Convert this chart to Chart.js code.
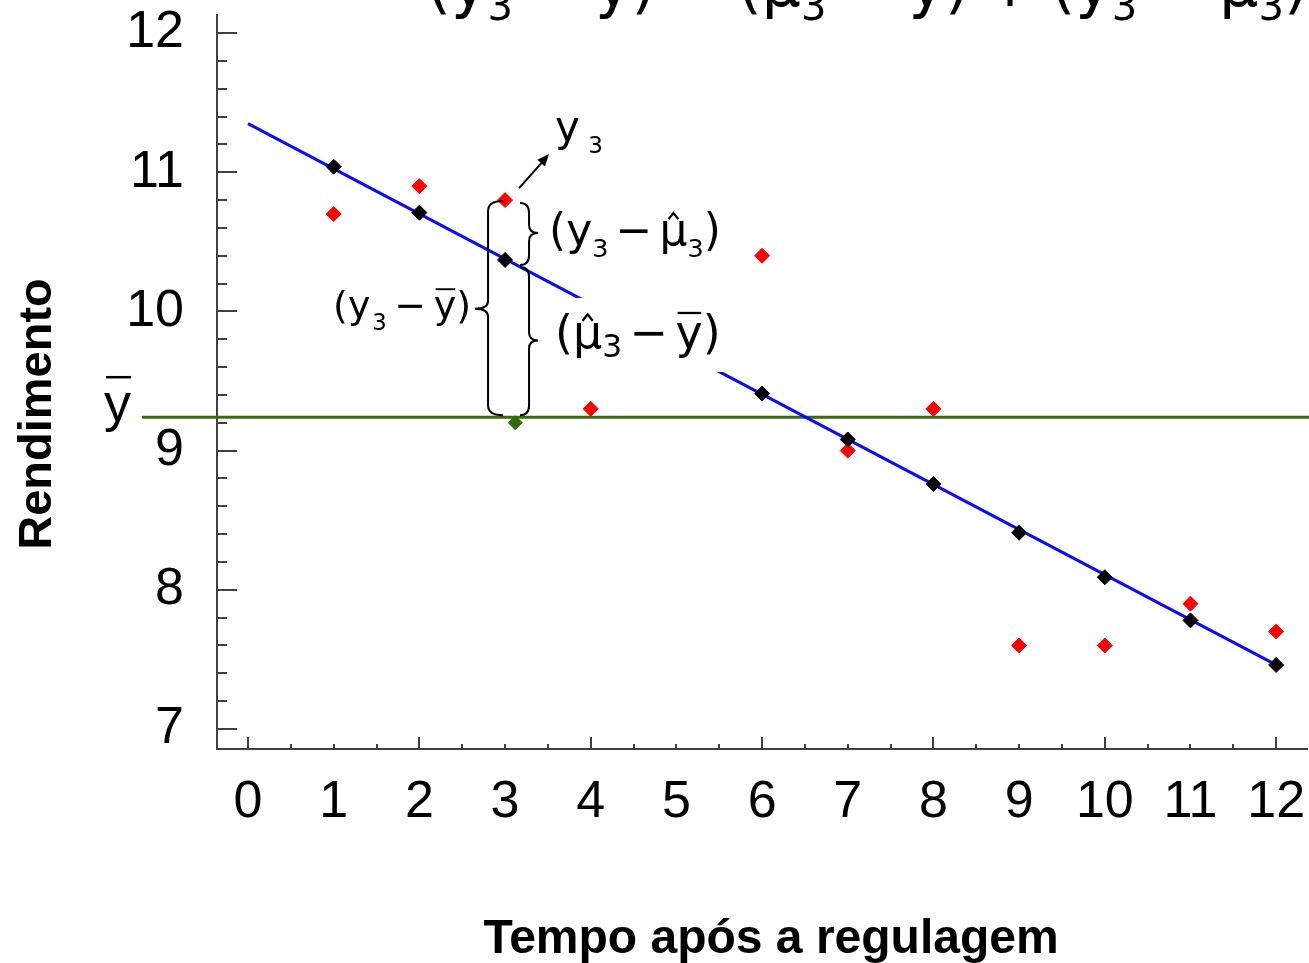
<!DOCTYPE html>
<html><head><meta charset="utf-8">
<script src="https://cdn.jsdelivr.net/npm/chart.js@4.4.1/dist/chart.umd.min.js"></script>
<style>html,body{margin:0;padding:0;background:#fff}#wrap{width:1309px;height:963px;position:relative}</style>
</head><body><div id="wrap"><canvas id="c"></canvas></div>
<script>
// ---- data ----
const tempo = [1, 2, 3, 4, 6, 7, 8, 9, 10, 11, 12];
const rendimento = [10.7, 10.9, 10.8, 9.3, 10.4, 9.0, 9.3, 7.6, 7.6, 7.9, 7.7];
const tempoAjustado = [1, 2, 3, 6, 7, 8, 9, 10, 11, 12];
const ajustado = [11.04, 10.71, 10.37, 9.41, 9.08, 8.76, 8.41, 8.09, 7.78, 7.46];
const retaX = [0, 12];
const retaY = [11.35, 7.46];
const mediaY = 9.24;
const mediaPontoX = [3.12];
const mediaPontoY = [9.2];
const xTickLabels = [0, 1, 2, 3, 4, 5, 6, 7, 8, 9, 10, 11, 12];
const yTickLabels = [7, 8, 9, 10, 11, 12];
const destaqueX = 3;          // observation 3
const destaqueObs = 10.8;     // y3
const destaqueAjust = 10.37;  // mu-hat 3
const xTitle = 'Tempo após a regulagem';
const yTitle = 'Rendimento';

const pts = (xs, ys) => xs.map((x, i) => ({x, y: ys[i]}));
const SANS = '"Liberation Sans", Arial, sans-serif';
const DV = '"DejaVu Sans", sans-serif';

// rich text: parts of {t, k:'n'|'s'|'op', bar, hat}
function rich(ctx, x, y, parts, F, opt) {
  opt = opt || {};
  const subR = opt.subR || 0.6, subDy = opt.subDy || 0.25, opGap = opt.opGap == null ? 0.12 : opt.opGap;
  let cx = x;
  ctx.textBaseline = 'alphabetic';
  ctx.textAlign = 'left';
  for (const p of parts) {
    const isSub = p.k === 's';
    const size = isSub ? F * subR : F;
    const dy = isSub ? F * subDy : 0;
    ctx.font = size + 'px ' + DV;
    if (p.k === 'op') cx += F * opGap;
    if (p.pre) cx += F * p.pre;
    ctx.fillText(p.t, cx, y + dy);
    const w = ctx.measureText(p.t).width;
    ctx.lineWidth = Math.max(1.5, F * 0.05);
    if (p.bar) {
      ctx.beginPath();
      ctx.moveTo(cx + w * 0.08, y - F * 0.76);
      ctx.lineTo(cx + w * 0.95, y - F * 0.76);
      ctx.stroke();
    }
    if (p.hat) {
      const c = cx + w * 0.5;
      ctx.beginPath();
      ctx.moveTo(c - F * 0.11, y - F * 0.59);
      ctx.lineTo(c, y - F * 0.73);
      ctx.lineTo(c + F * 0.11, y - F * 0.59);
      ctx.stroke();
    }
    cx += w;
    if (p.k === 'op') cx += F * opGap;
  }
  return cx;
}

function brace(ctx, x0, y1, y2, ym, dir, c, t) {
  // dir = 1: tip to the right ("}"), -1: tip to the left ("{")
  const r = Math.min(10, (y2 - y1) / 4);
  ctx.beginPath();
  ctx.moveTo(x0 - dir * c, y1);
  ctx.quadraticCurveTo(x0, y1, x0, y1 + r);
  ctx.lineTo(x0, ym - r * 0.8);
  ctx.quadraticCurveTo(x0, ym, x0 + dir * t, ym);
  ctx.quadraticCurveTo(x0, ym, x0, ym + r * 0.8);
  ctx.lineTo(x0, y2 - r);
  ctx.quadraticCurveTo(x0, y2, x0 - dir * c, y2);
  ctx.stroke();
}

const annot = {
  id: 'annot',
  beforeDatasetsDraw(chart) {
    const {ctx, scales: {x, y}} = chart;
    ctx.save();
    const ym = y.getPixelForValue(mediaY);
    ctx.strokeStyle = '#3b6b10';
    ctx.lineWidth = 3;
    ctx.beginPath();
    ctx.moveTo(x.left - 75, ym);
    ctx.lineTo(chart.width, ym);
    ctx.stroke();
    ctx.restore();
  },
  afterDatasetsDraw(chart) {
    const {ctx, scales: {x, y}, chartArea: ca} = chart;
    ctx.save();
    // axis tick marks
    ctx.strokeStyle = '#404040';
    ctx.lineWidth = 2;
    for (let i = 0; i <= 25; i++) {
      const v = 7 + i * 0.2;
      if (v > y.max) break;
      const py = Math.round(y.getPixelForValue(v));
      const major = Math.abs(v - Math.round(v)) < 1e-6;
      ctx.beginPath();
      ctx.moveTo(ca.left, py);
      ctx.lineTo(ca.left + (major ? 20 : 10), py);
      ctx.stroke();
    }
    for (let i = 0; i <= 24; i++) {
      const v = i * 0.5;
      const px = Math.round(x.getPixelForValue(v));
      const major = i % 4 === 0;
      ctx.beginPath();
      ctx.moveTo(px, ca.bottom);
      ctx.lineTo(px, ca.bottom - (major ? 12 : 5));
      ctx.stroke();
    }

    ctx.fillStyle = '#000';
    ctx.strokeStyle = '#000';
    const x3 = x.getPixelForValue(destaqueX);
    const yObs = y.getPixelForValue(destaqueObs);
    const yFit = y.getPixelForValue(destaqueAjust);
    const yBar = y.getPixelForValue(mediaY);

    // white box behind (mu-hat3 - ybar)
    ctx.fillStyle = '#fff';
    ctx.fillRect(x3 + 45, yFit + 38, 175, 74);
    ctx.fillStyle = '#000';

    // braces
    ctx.lineWidth = 2;
    brace(ctx, x3 + 24, yObs + 3, yFit + 5, (yObs + yFit) / 2 + 3, 1, 9, 9);
    brace(ctx, x3 + 24, yFit + 7, yBar - 2, (yFit + yBar) / 2 + 2, 1, 9, 9);
    brace(ctx, x3 - 17, yObs + 1, yBar - 2, (yObs + yBar) / 2, -1, 15, 13);

    // arrow to y3 label
    const ax0 = x3 + 14, ay0 = yObs - 12, ax1 = x3 + 44, ay1 = yObs - 46;
    ctx.lineWidth = 2;
    ctx.beginPath(); ctx.moveTo(ax0, ay0); ctx.lineTo(ax1 - 5, ay1 + 6); ctx.stroke();
    const ang = Math.atan2(ay1 - ay0, ax1 - ax0);
    ctx.beginPath();
    ctx.moveTo(ax1, ay1);
    ctx.lineTo(ax1 - 13 * Math.cos(ang - 0.4), ay1 - 13 * Math.sin(ang - 0.4));
    ctx.lineTo(ax1 - 13 * Math.cos(ang + 0.4), ay1 - 13 * Math.sin(ang + 0.4));
    ctx.closePath(); ctx.fill();

    // labels
    rich(ctx, x3 + 50, yObs - 59, [{t: 'y'}, {t: '3', k: 's', pre: 0.2}], 42, {subR: 0.55, subDy: 0.28});
    rich(ctx, x3 + 44, yObs + 45, [{t: '('}, {t: 'y'}, {t: '3', k: 's'}, {t: '−', k: 'op'}, {t: 'μ', hat: true}, {t: '3', k: 's'}, {t: ')'}], 44, {subR: 0.58, subDy: 0.26, opGap: 0.16});
    rich(ctx, x3 - 172, yObs + 118, [{t: '('}, {t: 'y'}, {t: '3', k: 's', pre: 0.05}, {t: '−', k: 'op'}, {t: 'y', bar: true}, {t: ')'}], 38, {subR: 0.6, subDy: 0.3, opGap: 0.2});
    rich(ctx, x3 + 50, yFit + 88, [{t: '('}, {t: 'μ', hat: true}, {t: '3', k: 's'}, {t: '−', k: 'op'}, {t: 'y', bar: true}, {t: ')'}], 46, {subR: 0.68, subDy: 0.2, opGap: 0.16});

    // top formula (cut off at the top)
    rich(ctx, 427, 6, [
      {t: '('}, {t: 'y'}, {t: '3', k: 's'}, {t: '−', k: 'op'}, {t: 'y', bar: true}, {t: ')'},
      {t: '=', k: 'op'},
      {t: '('}, {t: 'μ', hat: true}, {t: '3', k: 's'}, {t: '−', k: 'op'}, {t: 'y', bar: true}, {t: ')'},
      {t: '+', k: 'op'},
      {t: '('}, {t: 'y'}, {t: '3', k: 's'}, {t: '−', k: 'op'}, {t: 'μ', hat: true}, {t: '3', k: 's'}, {t: ')'}
    ], 61.5, {subR: 0.65, subDy: 0.23, opGap: 0.25});

    // y-bar label at left
    ctx.font = '54px ' + SANS;
    ctx.textAlign = 'left';
    ctx.textBaseline = 'alphabetic';
    ctx.fillText('y', 104, yBar + 4);
    ctx.lineWidth = 2.5;
    ctx.beginPath(); ctx.moveTo(106, yBar - 40); ctx.lineTo(131, yBar - 40); ctx.stroke();

    // axis titles
    ctx.font = 'bold 48px ' + SANS;
    ctx.textAlign = 'center';
    ctx.textBaseline = 'alphabetic';
    ctx.fillText(xTitle, 771, 953);
    ctx.save();
    ctx.translate(51, 414);
    ctx.rotate(-Math.PI / 2);
    ctx.font = 'bold 47px ' + SANS;
    ctx.fillText(yTitle, 0, 0);
    ctx.restore();
    ctx.restore();
  }
};

new Chart(document.getElementById('c'), {
  data: {
    datasets: [
      {type: 'line', data: pts(retaX, retaY), borderColor: '#0a0aff', borderWidth: 3, pointRadius: 0, fill: false, order: 5},
      {type: 'scatter', data: pts(tempo, rendimento), pointStyle: 'rectRot', radius: 7.5, backgroundColor: '#ff0000', borderColor: '#ff0000', borderWidth: 1, order: 2},
      {type: 'scatter', data: pts(tempoAjustado, ajustado), pointStyle: 'rectRot', radius: 7.5, backgroundColor: '#000', borderColor: '#000', borderWidth: 1, order: 1},
      {type: 'scatter', data: pts(mediaPontoX, mediaPontoY), pointStyle: 'rectRot', radius: 7, backgroundColor: '#2f6b0c', borderColor: '#2f6b0c', borderWidth: 1, order: 1}
    ]
  },
  options: {
    responsive: true,
    maintainAspectRatio: false,
    animation: false,
    events: [],
    layout: {autoPadding: false, padding: {left: 0, top: 15, right: 2, bottom: 0}},
    plugins: {legend: {display: false}, tooltip: {enabled: false}},
    scales: {
      x: {
        type: 'linear', min: -0.362, max: 12.36,
        afterBuildTicks: s => { s.ticks = xTickLabels.map(v => ({value: v})); },
        afterFit: s => { s.height = 214; s.paddingLeft = 0; s.paddingRight = 0; },
        ticks: {font: {family: SANS, size: 52}, color: '#000', padding: 22, autoSkip: false, maxRotation: 0},
        grid: {display: false, drawTicks: false},
        border: {display: true, color: '#404040', width: 2}
      },
      y: {
        type: 'linear', min: 6.856, max: 12.13,
        afterBuildTicks: s => { s.ticks = yTickLabels.map(v => ({value: v})); },
        afterFit: s => { s.width = 217; s.paddingTop = 0; s.paddingBottom = 0; },
        ticks: {font: {family: SANS, size: 52}, color: '#000', padding: 33},
        grid: {display: false, drawTicks: false},
        border: {display: true, color: '#404040', width: 2}
      }
    }
  },
  plugins: [annot]
});
</script>
</body></html>
